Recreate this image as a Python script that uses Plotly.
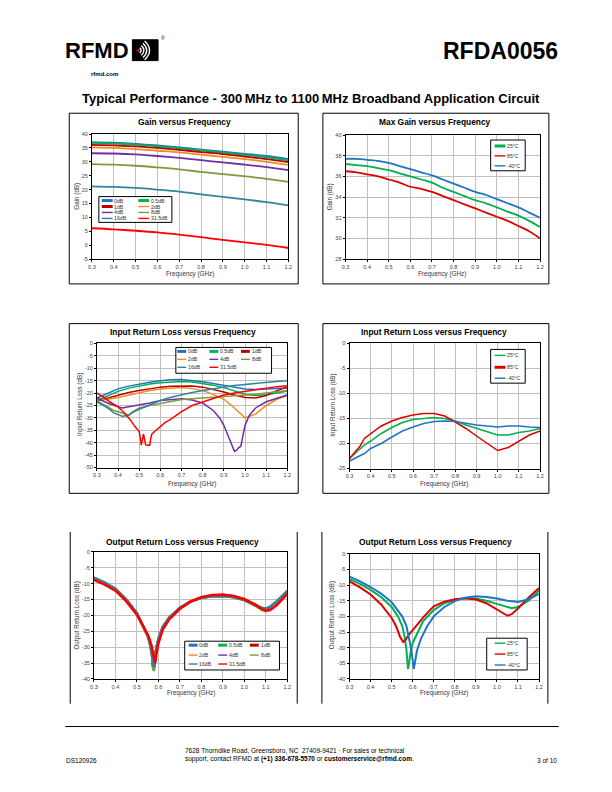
import plotly.graph_objects as go

W, H = 612, 792
OFF = 8  # the page body adds an 8 px margin; positions below are page pixels
FONT = "Liberation Sans, Arial, sans-serif"

# ---------------- data ----------------
FREQ_TICKS = [0.3, 0.4, 0.5, 0.6, 0.7, 0.8, 0.9, 1.0, 1.1, 1.2]
FREQ_TICK_TEXT = ["0.3", "0.4", "0.5", "0.6", "0.7", "0.8", "0.9", "1.0", "1.1", "1.2"]

ATTEN_LABELS = ["0dB", "0.5dB", "1dB", "2dB", "4dB", "8dB", "16dB", "31.5dB"]
ATTEN_COLORS = ["#1F74C4", "#00B04F", "#C00000", "#F08A24", "#7030A0", "#7F9A3A", "#31859C", "#FF0000"]
ATTEN_LEG_W = [3, 3, 3, 1.4, 1.4, 1.4, 1.4, 1.4]

TEMP_LABELS = ["25\u00b0C", "85\u00b0C", "-40\u00b0C"]
TEMP_COLORS = ["#00B04F", "#E00000", "#1F74C4"]

# Gain versus Frequency
FREQ_GAIN = [0.3, 0.4, 0.5, 0.6, 0.7, 0.8, 0.9, 1.0, 1.1, 1.2]
gain_0dB = [37.1, 36.9, 36.5, 35.9, 35.2, 34.4, 33.7, 32.9, 32.1, 31.0]
gain_0p5dB = [36.8, 36.6, 36.2, 35.6, 34.9, 34.1, 33.3, 32.5, 31.6, 30.5]
gain_1dB = [36.1, 35.9, 35.6, 35.0, 34.3, 33.5, 32.8, 31.9, 31.0, 29.9]
gain_2dB = [35.2, 35.0, 34.6, 34.0, 33.4, 32.6, 31.8, 31.0, 30.0, 28.9]
gain_4dB = [33.1, 33.0, 32.7, 32.1, 31.4, 30.6, 29.8, 29.0, 28.1, 27.0]
gain_8dB = [29.2, 29.0, 28.6, 28.0, 27.3, 26.4, 25.6, 24.8, 23.9, 22.8]
gain_16dB = [21.2, 21.0, 20.6, 20.0, 19.3, 18.3, 17.4, 16.5, 15.5, 14.3]
gain_31p5dB = [6.1, 5.7, 5.2, 4.6, 3.8, 2.9, 1.9, 1.0, 0.1, -1.0]
GAIN_SERIES = [gain_0dB, gain_0p5dB, gain_1dB, gain_2dB, gain_4dB, gain_8dB, gain_16dB, gain_31p5dB]

# Max Gain versus Frequency
FREQ_MAXGAIN = [0.3, 0.35, 0.4, 0.45, 0.5, 0.55, 0.6, 0.65, 0.7, 0.75, 0.8, 0.85, 0.9, 0.95, 1.0, 1.05, 1.1, 1.15, 1.2]
maxgain_25C = [37.2, 37.1, 37.0, 36.8, 36.6, 36.3, 36.0, 35.7, 35.4, 34.9, 34.5, 34.1, 33.7, 33.4, 33.0, 32.6, 32.2, 31.7, 31.1]
maxgain_85C = [36.5, 36.4, 36.2, 36.0, 35.7, 35.4, 35.0, 34.8, 34.5, 34.1, 33.7, 33.3, 32.9, 32.5, 32.1, 31.7, 31.2, 30.7, 30.0]
maxgain_m40C = [37.7, 37.7, 37.6, 37.5, 37.3, 37.0, 36.7, 36.4, 36.1, 35.7, 35.3, 34.9, 34.5, 34.2, 33.8, 33.4, 33.0, 32.5, 32.0]
MAXGAIN_SERIES = [maxgain_25C, maxgain_85C, maxgain_m40C]

# Input Return Loss versus Frequency (attenuation states)
FREQ_IRL = [0.30, 0.35, 0.40, 0.45, 0.50, 0.55, 0.60, 0.65, 0.70, 0.75, 0.80, 0.85, 0.90, 0.95, 1.00, 1.05, 1.10, 1.15, 1.20]
irl_0dB = [-22.0, -20.0, -18.3, -17.2, -16.3, -15.6, -15.0, -14.6, -14.5, -14.8, -15.4, -16.1, -16.8, -17.6, -18.4, -18.6, -18.4, -18.2, -18.0]
irl_0p5dB = [-23.0, -21.0, -19.3, -18.0, -17.0, -16.3, -15.8, -15.4, -15.3, -15.5, -16.0, -16.8, -17.8, -19.2, -20.5, -21.0, -20.7, -20.0, -19.2]
irl_1dB = [-23.2, -22.0, -20.8, -19.8, -19.0, -18.2, -17.6, -17.2, -17.0, -17.1, -17.6, -18.5, -19.6, -20.8, -21.8, -22.0, -21.0, -19.0, -17.6]
irl_2dB = [-22.8, -22.5, -21.8, -20.8, -19.8, -19.0, -18.4, -18.0, -17.8, -18.2, -19.0, -20.5, -22.5, -26.0, -30.0, -28.5, -25.0, -22.5, -21.0]
FREQ_IRL_4dB = [0.30, 0.35, 0.40, 0.42, 0.45, 0.50, 0.55, 0.60, 0.65, 0.70, 0.75, 0.80, 0.85, 0.88, 0.90, 0.92, 0.94, 0.95, 0.96, 0.97, 0.98, 1.00, 1.02, 1.05, 1.10, 1.15, 1.20]
irl_4dB = [-22.0, -24.0, -25.5, -26.0, -25.5, -24.8, -24.0, -23.0, -22.6, -22.3, -22.8, -24.0, -27.0, -30.0, -33.0, -37.0, -41.5, -43.5, -43.0, -42.0, -41.5, -33.0, -29.0, -26.0, -23.5, -22.0, -20.8]
FREQ_IRL_B = [0.30, 0.35, 0.38, 0.40, 0.42, 0.45, 0.47, 0.50, 0.55, 0.60, 0.65, 0.70, 0.75, 0.80, 0.85, 0.90, 0.95, 1.00, 1.05, 1.10, 1.15, 1.20]
irl_8dB = [-23.0, -25.5, -27.0, -27.5, -28.0, -28.8, -27.5, -26.0, -25.0, -24.2, -23.2, -22.6, -22.3, -22.0, -21.8, -21.6, -21.3, -21.0, -20.5, -20.0, -19.5, -19.0]
irl_16dB = [-23.5, -26.0, -28.0, -28.8, -29.3, -29.0, -27.8, -26.5, -24.8, -23.0, -21.7, -20.6, -19.8, -19.0, -18.2, -17.5, -16.9, -16.5, -16.0, -15.7, -15.3, -15.0]
FREQ_IRL_31p5dB = [0.30, 0.33, 0.36, 0.40, 0.43, 0.46, 0.48, 0.50, 0.505, 0.51, 0.515, 0.52, 0.525, 0.53, 0.54, 0.55, 0.555, 0.56, 0.58, 0.60, 0.62, 0.65, 0.68, 0.70, 0.75, 0.80, 0.85, 0.90, 0.95, 1.00, 1.05, 1.10, 1.15, 1.20]
irl_31p5dB = [-20.0, -21.5, -23.5, -25.5, -28.0, -31.0, -33.5, -35.5, -38.0, -41.0, -39.0, -36.5, -38.5, -40.8, -41.0, -41.0, -38.0, -36.5, -35.0, -33.5, -32.0, -30.5, -28.5, -27.5, -25.0, -23.5, -22.0, -20.8, -20.0, -19.3, -18.8, -18.0, -17.4, -17.0]
IRL_X = [FREQ_IRL, FREQ_IRL, FREQ_IRL, FREQ_IRL, FREQ_IRL_4dB, FREQ_IRL_B, FREQ_IRL_B, FREQ_IRL_31p5dB]
IRL_SERIES = [irl_0dB, irl_0p5dB, irl_1dB, irl_2dB, irl_4dB, irl_8dB, irl_16dB, irl_31p5dB]

# Input Return Loss versus Frequency (temperature)
FREQ_IRLT = [0.30, 0.33, 0.35, 0.37, 0.40, 0.45, 0.50, 0.55, 0.60, 0.65, 0.70, 0.75, 0.80, 0.85, 0.90, 0.95, 1.00, 1.05, 1.10, 1.15, 1.20]
irlt_25C = [-23.0, -21.8, -21.0, -20.3, -19.5, -18.0, -16.8, -15.8, -15.2, -15.0, -14.8, -15.0, -15.5, -16.3, -17.0, -17.7, -18.3, -18.3, -17.8, -17.5, -17.0]
irlt_85C = [-23.0, -21.5, -20.5, -19.0, -18.0, -16.5, -15.5, -14.8, -14.3, -14.0, -14.0, -14.5, -15.7, -17.0, -18.5, -20.0, -21.4, -20.8, -19.5, -18.3, -17.5]
irlt_m40C = [-23.5, -22.8, -22.5, -22.0, -21.0, -20.0, -18.7, -17.5, -16.7, -16.0, -15.6, -15.5, -15.6, -16.0, -16.3, -16.5, -16.7, -16.5, -16.5, -16.7, -16.8]
IRLT_SERIES = [irlt_25C, irlt_85C, irlt_m40C]

# Output Return Loss versus Frequency (attenuation states)
FREQ_ORL = [0.30, 0.35, 0.40, 0.45, 0.50, 0.53, 0.55, 0.56, 0.57, 0.575, 0.58, 0.585, 0.59, 0.60, 0.62, 0.65, 0.70, 0.75, 0.80, 0.85, 0.90, 0.95, 1.00, 1.05, 1.08, 1.10, 1.12, 1.15, 1.20]
orl_0dB = [-8.3, -9.8, -11.7, -15.0, -19.4, -23.3, -26.3, -28.5, -32.0, -35.8, -36.2, -33.0, -30.5, -27.5, -23.8, -20.8, -17.7, -15.7, -14.5, -14.0, -13.9, -14.2, -15.1, -16.6, -17.6, -18.0, -17.5, -15.8, -12.4]
orl_0p5dB = [-8.3, -9.8, -11.7, -15.0, -19.4, -23.3, -26.3, -28.5, -32.0, -36.0, -36.4, -33.0, -30.5, -27.5, -23.8, -20.8, -17.7, -15.7, -14.4, -13.9, -13.8, -14.1, -15.0, -16.6, -17.8, -18.2, -17.7, -16.0, -12.5]
orl_1dB = [-8.5, -10.0, -11.9, -15.2, -19.6, -23.5, -26.5, -28.8, -32.0, -35.5, -36.5, -33.5, -31.0, -28.0, -24.0, -21.0, -17.8, -15.6, -14.3, -13.7, -13.5, -13.9, -14.9, -16.6, -17.9, -18.4, -18.0, -16.4, -13.0]
orl_2dB = [-8.3, -9.8, -11.7, -15.0, -19.4, -23.3, -26.3, -28.5, -32.0, -36.0, -36.4, -33.0, -30.5, -27.5, -23.8, -20.8, -17.7, -15.7, -14.4, -13.9, -13.8, -14.1, -15.0, -16.6, -17.8, -18.2, -17.7, -16.0, -12.5]
orl_4dB = [-8.2, -9.7, -11.6, -14.9, -19.3, -23.2, -26.2, -28.5, -32.3, -36.3, -36.6, -33.0, -30.3, -27.3, -23.6, -20.7, -17.6, -15.6, -14.4, -13.8, -13.7, -14.1, -15.1, -16.8, -18.0, -18.4, -17.8, -16.0, -12.4]
orl_8dB = [-8.2, -9.7, -11.6, -14.9, -19.4, -23.4, -26.5, -29.0, -33.0, -37.0, -37.5, -33.5, -30.6, -27.5, -23.8, -20.8, -17.7, -15.7, -14.5, -14.0, -13.9, -14.3, -15.3, -17.0, -18.3, -18.7, -18.1, -16.2, -12.6]
orl_16dB = [-8.1, -9.6, -11.6, -14.9, -19.3, -23.2, -26.2, -28.4, -32.0, -35.8, -36.3, -33.0, -30.4, -27.4, -23.7, -20.7, -17.6, -15.7, -14.5, -14.0, -13.9, -14.3, -15.2, -16.6, -17.6, -17.8, -17.2, -15.5, -12.2]
orl_31p5dB = [-8.8, -10.3, -12.2, -15.5, -19.8, -23.5, -26.0, -27.8, -30.0, -32.0, -34.0, -35.0, -32.5, -28.8, -24.5, -21.2, -17.9, -15.6, -14.3, -13.6, -13.5, -13.9, -14.9, -16.6, -17.9, -18.5, -18.3, -16.8, -13.2]
ORL_SERIES = [orl_0dB, orl_0p5dB, orl_1dB, orl_2dB, orl_4dB, orl_8dB, orl_16dB, orl_31p5dB]

# Output Return Loss versus Frequency (temperature)
FREQ_ORLT_25C = [0.30, 0.35, 0.40, 0.45, 0.50, 0.53, 0.55, 0.56, 0.57, 0.578, 0.585, 0.59, 0.60, 0.62, 0.65, 0.70, 0.75, 0.80, 0.85, 0.90, 0.95, 1.00, 1.05, 1.07, 1.10, 1.15, 1.20]
orlt_25C = [-8.1, -9.6, -11.5, -13.8, -17.0, -20.0, -23.0, -26.0, -30.5, -36.8, -34.0, -31.5, -28.5, -25.5, -21.5, -18.0, -15.8, -14.7, -14.2, -14.3, -15.0, -16.0, -17.1, -17.4, -17.0, -15.0, -11.7]
FREQ_ORLT_85C = [0.30, 0.35, 0.40, 0.45, 0.50, 0.52, 0.54, 0.555, 0.565, 0.575, 0.59, 0.60, 0.62, 0.65, 0.70, 0.75, 0.80, 0.85, 0.90, 0.95, 1.00, 1.03, 1.05, 1.07, 1.10, 1.15, 1.20]
orlt_85C = [-8.8, -10.7, -13.0, -16.2, -20.5, -23.0, -26.5, -28.2, -27.7, -26.5, -25.2, -24.5, -22.8, -20.3, -16.8, -15.3, -14.5, -14.2, -14.6, -15.8, -17.8, -19.2, -19.8, -19.3, -17.5, -14.0, -10.9]
FREQ_ORLT_M40C = [0.30, 0.35, 0.40, 0.45, 0.50, 0.55, 0.57, 0.58, 0.59, 0.60, 0.605, 0.61, 0.62, 0.64, 0.67, 0.70, 0.75, 0.80, 0.85, 0.90, 0.95, 1.00, 1.05, 1.10, 1.15, 1.20]
orlt_m40C = [-7.3, -8.8, -10.6, -12.7, -15.5, -20.0, -23.0, -26.0, -29.5, -34.0, -36.8, -35.0, -31.0, -27.0, -23.0, -20.0, -17.0, -15.1, -14.0, -13.6, -13.8, -14.3, -15.0, -15.4, -14.5, -12.8]
ORLT_X = [FREQ_ORLT_25C, FREQ_ORLT_85C, FREQ_ORLT_M40C]
ORLT_SERIES = [orlt_25C, orlt_85C, orlt_m40C]

Y_TICKS_GAIN = [-5, 0, 5, 10, 15, 20, 25, 30, 35, 40]
Y_TICKS_MAXGAIN = [28, 30, 32, 34, 36, 38, 40]
Y_TICKS_IRL = [-50, -45, -40, -35, -30, -25, -20, -15, -10, -5, 0]
Y_TICKS_IRLT = [-25, -20, -15, -10, -5, 0]
Y_TICKS_ORL = [-40, -35, -30, -25, -20, -15, -10, -5, 0]

# ---------------- helpers ----------------
def X(p):
    return (p - OFF) / W


def Y(p):
    return 1 - (p - OFF) / H


fig = go.Figure()
shapes = []
annots = []


def text(x, y, s, size, xanchor="center", yanchor="middle", color="black", angle=0, bold=False, align="center"):
    if bold:
        s = "<b>" + s + "</b>"
    annots.append(dict(x=X(x), y=Y(y), xref="paper", yref="paper", text=s, showarrow=False,
                       xanchor=xanchor, yanchor=yanchor, textangle=angle, align=align, borderpad=0,
                       font=dict(family=FONT, size=size, color=color)))


def line(x0, y0, x1, y1, color="black", width=1):
    shapes.append(dict(type="line", xref="paper", yref="paper", x0=X(x0), y0=Y(y0), x1=X(x1), y1=Y(y1),
                       line=dict(color=color, width=width), layer="above"))


def rect(x0, y0, x1, y1, color="black", width=1, fill="rgba(0,0,0,0)"):
    shapes.append(dict(type="rect", xref="paper", yref="paper", x0=X(x0), y0=Y(y0), x1=X(x1), y1=Y(y1),
                       line=dict(color=color, width=width), fillcolor=fill, layer="above"))


def legend(box, cols, rows, items, sample=10):
    rect(*box, fill="white")
    for i, (name, color, lw) in enumerate(items):
        r, c = divmod(i, len(cols))
        sx, sy = cols[c], rows[r]
        line(sx, sy, sx + sample, sy, color=color, width=lw)
        text(sx + sample + 0.8, sy, name, 5.2, xanchor="left", color="#333333")


def add_series(idx, xs, ys, color, width=1.7, shape="linear"):
    suffix = "" if idx == 1 else str(idx)
    fig.add_trace(go.Scatter(x=xs, y=ys, mode="lines", line=dict(color=color, width=width, shape=shape),
                             xaxis="x" + suffix, yaxis="y" + suffix, showlegend=False, hoverinfo="skip"))


axis_common = dict(showline=True, linecolor="black", linewidth=1, mirror=True, ticks="outside", ticklen=2,
                   tickwidth=1, tickcolor="black", tickfont=dict(family=FONT, size=5.5, color="#404040"),
                   showgrid=True, gridcolor="#BFBFBF", gridwidth=1, zeroline=False, fixedrange=True)

layout_axes = {}


def make_axes(idx, xdom, ydom, yrange, yticks, ygrid=True):
    suffix = "" if idx == 1 else str(idx)
    layout_axes["xaxis" + suffix] = dict(domain=[X(xdom[0]), X(xdom[1])], anchor="y" + suffix, range=[0.3, 1.2],
                                         tickvals=FREQ_TICKS, ticktext=FREQ_TICK_TEXT, **axis_common)
    yc = dict(axis_common)
    yc["showgrid"] = ygrid
    layout_axes["yaxis" + suffix] = dict(domain=[Y(ydom[1]), Y(ydom[0])], anchor="x" + suffix, range=yrange,
                                         tickvals=yticks, ticktext=[str(v) for v in yticks], **yc)


# ---------------- panels ----------------
make_axes(1, (89, 288), (132, 258), [-5, 40], Y_TICKS_GAIN, ygrid=False)
for ys, col in zip(GAIN_SERIES, ATTEN_COLORS):
    add_series(1, FREQ_GAIN, ys, col, width=1.8, shape="spline")
make_axes(2, (346, 543), (133, 258), [28, 40], Y_TICKS_MAXGAIN)
for ys, col in zip(MAXGAIN_SERIES, TEMP_COLORS):
    add_series(2, FREQ_MAXGAIN, ys, col, width=1.8, shape="spline")
make_axes(3, (94, 287), (343, 468), [-50, 0], Y_TICKS_IRL)
for xs, ys, col in zip(IRL_X, IRL_SERIES, ATTEN_COLORS):
    add_series(3, xs, ys, col, width=1.5)
make_axes(4, (350, 543), (343, 469), [-25, 0], Y_TICKS_IRLT)
for ys, col in zip(IRLT_SERIES, TEMP_COLORS):
    add_series(4, FREQ_IRLT, ys, col, width=1.5)
make_axes(5, (91, 287), (553, 681), [-40, 0], Y_TICKS_ORL)
for ys, col in zip(ORL_SERIES, ATTEN_COLORS):
    add_series(5, FREQ_ORL, ys, col, width=2.3 if col != "#FF0000" else 2.6)
make_axes(6, (350, 542), (555, 681), [-40, 0], Y_TICKS_ORL)
for xs, ys, col in zip(ORLT_X, ORLT_SERIES, TEMP_COLORS):
    add_series(6, xs, ys, col, width=2.0)

# frames
rect(66, 111, 298, 283)
rect(323, 111, 552, 283)
rect(66, 323, 298, 494)
rect(323, 323, 552, 494)
line(67, 533, 67, 706)
line(297, 533, 297, 706)
line(322, 533, 322, 706)
line(551, 533, 551, 706)

# panel titles
TS = 8.4
text(183, 120, "Gain versus Frequency", TS, bold=True)
text(437, 120, "Max Gain versus Frequency", TS, bold=True)
text(181, 331, "Input Return Loss versus Frequency", TS, bold=True)
text(436, 331, "Input Return Loss versus Frequency", TS, bold=True)
text(181, 543, "Output Return Loss versus Frequency", TS, bold=True)
text(437, 543, "Output Return Loss versus Frequency", TS, bold=True)

# axis titles
for xc, yc in [(188, 273), (444, 273), (190, 485), (446, 485), (189, 695), (446, 695)]:
    text(xc, yc, "Frequency (GHz)", 6.3, color="#333333")
text(73, 195, "Gain (dB)", 6.3, angle=-90, color="#333333")
text(330, 195, "Gain (dB)", 6.3, angle=-90, color="#333333")
text(77, 405, "Input Return Loss (dB)", 6.3, angle=-90, color="#333333")
text(333, 405, "Input Return Loss (dB)", 6.3, angle=-90, color="#333333")
text(74, 617, "Output Return Loss (dB)", 6.3, angle=-90, color="#333333")
text(333, 617, "Output Return Loss (dB)", 6.3, angle=-90, color="#333333")

# legends
atten_items = list(zip(ATTEN_LABELS, ATTEN_COLORS, ATTEN_LEG_W))
legend((96, 195, 170, 221), [99, 136], [199, 205, 211, 217], atten_items, sample=11)
legend((493, 138, 528, 169), [497], [144, 154, 164],
       list(zip(TEMP_LABELS, TEMP_COLORS, [3, 1.4, 1.4])), sample=11)
legend((174, 347, 271, 373), [175.5, 208, 240], [351, 359, 367], atten_items, sample=9)
legend((493, 349, 528, 383), [497], [355, 367, 378],
       list(zip(TEMP_LABELS, TEMP_COLORS, [1.4, 3, 1.4])), sample=11)
legend((183, 643, 279, 672), [187, 217, 249], [647, 657, 666], atten_items, sample=9)
legend((489, 640, 530, 672), [497], [645, 656, 667],
       list(zip(TEMP_LABELS, TEMP_COLORS, [1.4, 1.4, 1.4])), sample=11)

# header
text(61, 48, "RFMD", 22, xanchor="left", bold=True)
shapes.append(dict(type="rect", xref="paper", yref="paper", x0=X(130), y0=Y(58), x1=X(156), y1=Y(37),
                   line=dict(color="black", width=1), fillcolor="black", layer="above"))
shapes.append(dict(type="circle", xref="paper", yref="paper", x0=X(134.3), y0=Y(49), x1=X(136.8), y1=Y(46.5),
                   line=dict(color="#E00000", width=0.5), fillcolor="#E00000", layer="above"))
for r in (3.5, 6.5, 9.5, 12.5):
    cx, cy = 135.5, 47.7
    x0, y0 = cx + r * 0.55, cy - r * 0.75
    qx, qy = cx + r * 1.35, cy
    x1, y1 = cx + r * 0.55, cy + r * 0.75
    path = "M {:.5f} {:.5f} Q {:.5f} {:.5f} {:.5f} {:.5f}".format(X(x0), Y(y0), X(qx), Y(qy), X(x1), Y(y1))
    shapes.append(dict(type="path", xref="paper", yref="paper", path=path,
                       line=dict(color="white", width=1.4), layer="above"))
text(158, 35, "\u00ae", 5, xanchor="left")
text(102, 71, "rfmd.com", 6, bold=True)
text(562, 48, "RFDA0056", 23, xanchor="right", bold=True)
text(311, 96, "Typical Performance - 300\u2009MHz to 1100\u2009MHz Broadband Application Circuit", 13, bold=True)

# footer
line(62, 729, 562, 729, width=1)
text(62, 763, "DS120926", 6.5, xanchor="left")
text(299, 758, "7628 Thorndike Road, Greensboro, NC  27409-9421 \u00b7 For sales or technical<br>"
               "support, contact RFMD at <b>(+1) 336-678-5570</b> or <b>customerservice@rfmd.com</b>.",
     6.5, align="left")
text(561, 763, "3 of 10", 6.5, xanchor="right")

fig.update_layout(width=W, height=H, autosize=False, margin=dict(l=0, r=0, t=0, b=0),
                  paper_bgcolor="white", plot_bgcolor="white", showlegend=False,
                  shapes=shapes, annotations=annots, font=dict(family=FONT), **layout_axes)

fig.write_html("out.html")
